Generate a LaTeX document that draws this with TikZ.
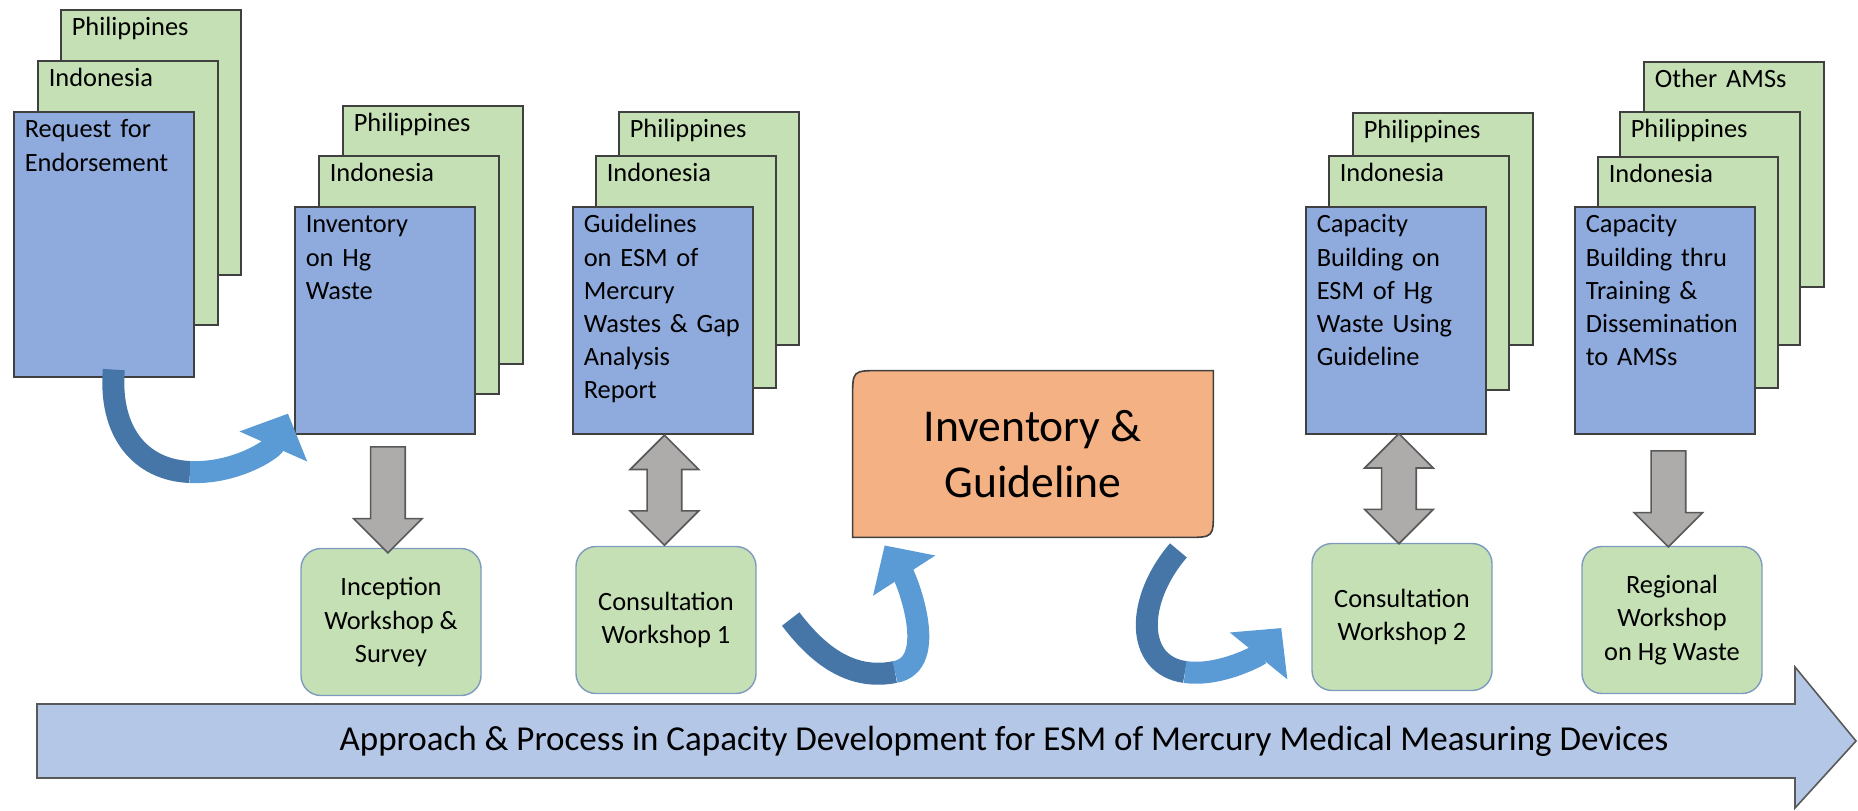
\documentclass[tikz,border=0pt]{standalone}
\usepackage{fontspec}
\setmainfont{Carlito}
\usetikzlibrary{arrows.meta,calc,shapes.arrows,backgrounds}

\definecolor{azulC}{RGB}{143,170,220}
\definecolor{verdeC}{RGB}{197,224,180}
\definecolor{naranjaC}{RGB}{244,177,131}
\definecolor{grisF}{RGB}{174,171,171}
\definecolor{grisB}{RGB}{89,89,89}
\definecolor{bordeC}{RGB}{64,64,64}
\definecolor{bordeT}{RGB}{125,155,190}
\definecolor{curvaO}{RGB}{70,118,168}
\definecolor{curvaC}{RGB}{91,155,213}
\definecolor{procC}{RGB}{180,199,231}

\newcommand{\cajafont}{\fontsize{13.2}{16.6}\selectfont}
\newcommand{\igfont}{\fontsize{22.8}{28.3}\selectfont}
\newcommand{\titfont}{\fontsize{17.5}{20}\selectfont}

\tikzset{
	caja/.style={draw=bordeC, line width=0.8pt, anchor=north west, inner xsep=5.5pt, inner ysep=0pt, text width=79pt, align=left, font=\cajafont},
	pais/.style={caja, fill=verdeC, text height=13pt, text depth=#1},
	doc/.style={caja, fill=azulC, text height=13pt, text depth=#1},
	taller/.style={draw=bordeT, fill=verdeC, line width=0.7pt, rounded corners=10pt, minimum width=90pt, minimum height=73.5pt, align=center, font=\cajafont},
	bajada/.style={single arrow, shape border rotate=270, draw=grisB, fill=grisF, line width=0.8pt, inner sep=8.25pt, minimum width=34pt, single arrow head extend=8.5pt, minimum height=#1},
	doble/.style={double arrow, shape border rotate=90, draw=grisB, fill=grisF, line width=0.8pt, inner sep=8.25pt, minimum width=34pt, double arrow head extend=8.5pt, minimum height=#1},
	curvaA/.style={draw=curvaO, line width=11pt},
	curvaB/.style={draw=curvaC, line width=11pt, -{Triangle[width=36pt,length=18pt]}},
}

\begin{document}
\begin{tikzpicture}[x=0.5pt, y=-0.5pt]

	\useasboundingbox (0,0) rectangle (1858,810);

	%COLUMNA 1
	\node[pais=119.5pt] (phl1) at (60,9) {Philippines};
	\node[pais=119pt] (ind1) at (37,60) {Indonesia};
	\node[doc=119.5pt] (req) at (13,111) {Request for\\Endorsement};

	%COLUMNA 2
	\node[pais=116pt] (phl2) at (342,105) {Philippines};
	\node[pais=106pt] (ind2) at (318,155) {Indonesia};
	\node[doc=100.5pt] (inv) at (294,206) {Inventory\\on Hg\\Waste};

	%COLUMNA 3
	\node[pais=103.5pt] (phl3) at (618,111) {Philippines};
	\node[pais=103pt] (ind3) at (595,155) {Indonesia};
	\node[doc=100.5pt] (gdl) at (572,206) {Guidelines\\on ESM of\\Mercury\\Wastes \& Gap\\Analysis\\Report};

	%COLUMNA 4
	\node[pais=103pt] (phl4) at (1352,112) {Philippines};
	\node[pais=104pt] (ind4) at (1328,155) {Indonesia};
	\node[doc=100.5pt] (cbe) at (1305,206) {Capacity\\Building on\\ESM of Hg\\Waste Using\\Guideline};

	%COLUMNA 5
	\node[pais=99.5pt] (oth5) at (1643,61) {Other AMSs};
	\node[pais=103.5pt] (phl5) at (1619,111) {Philippines};
	\node[pais=102.5pt] (ind5) at (1597,156) {Indonesia};
	\node[doc=100.5pt] (cbt) at (1574,206) {Capacity\\Building thru\\Training \&\\Dissemination\\to AMSs};

	%TALLERES
	\node[taller] (ws1) at (391,622) {Inception\\Workshop \&\\Survey};
	\node[taller] (ws2) at (666,620) {Consultation\\Workshop 1};
	\node[taller] (ws3) at (1402,617) {Consultation\\Workshop 2};
	\node[taller] (ws4) at (1672,620) {Regional\\Workshop\\on Hg Waste};

	%FLECHAS GRISES
	\node[bajada=53pt] (fl1) at ($(inv.south)!0.5!(ws1.north)$) {};
	\node[doble=55pt] (fl2) at ($(gdl.south)!0.5!(ws2.north)$) {};
	\node[doble=55pt] (fl3) at ($(cbe.south)!0.5!(ws3.north)$) {};
	\node[bajada=48pt] (fl4) at ($(cbt.south)!0.5!(ws4.north)$) {};

	%INVENTARIO
	\node[minimum width=180pt, minimum height=83pt, align=center, font=\igfont] (ig) at (1033,454) {Inventory \&\\Guideline};
	\begin{scope}[on background layer]
		\draw[draw=bordeC, line width=0.8pt, fill=naranjaC] ($(ig.north west)+(0,27)$) .. controls (ig.north west) .. ($(ig.north west)+(27,0)$) -| ($(ig.south east)+(0,-27)$) .. controls (ig.south east) .. ($(ig.south east)+(-27,0)$) -- (ig.south west) -- cycle;
	\end{scope}

	%FLECHAS CURVAS
	\coordinate (c1a) at ($(req.south)+(10,-8)$);
	\coordinate (c1b) at (190,472);
	\coordinate (c1c) at ($(inv.south west)+(-6,-21)$);
	\draw[curvaA] (c1a) .. controls +(-5,62) and +(-50,-2) .. (c1b);
	\draw[curvaB] (c1b) .. controls +(45,2) and +(-16,36) .. (c1c);

	\coordinate (c2a) at ($(ws2.east)+(34,-1)$);
	\coordinate (c2b) at (895,672);
	\coordinate (c2c) at ($(ig.south west)+(32,8)$);
	\draw[curvaA] (c2a) .. controls +(31,41) and +(-40,8) .. (c2b);
	\draw[curvaB] (c2b) .. controls +(45,-8) and +(22,34) .. (c2c);

	\coordinate (c3a) at ($(ig.south east)+(-35,13)$);
	\coordinate (c3b) at (1185,672);
	\coordinate (c3c) at ($(ws3.west)+(-30,11)$);
	\draw[curvaA] (c3a) .. controls +(-43,50) and +(-50,-7) .. (c3b);
	\draw[curvaB] (c3b) .. controls +(35,5) and +(-22,27) .. (c3c);

	%FLECHA PROCESO
	\draw[draw=grisB, line width=0.8pt, fill=procC] (37,704) -- (1795,704) -- (1795,667) -- (1856,741) -- (1795,808) -- (1795,778) -- (37,778) -- cycle;
	\node[font=\titfont] (tit) at (1004,741) {Approach \& Process in Capacity Development for ESM of Mercury Medical Measuring Devices};

\end{tikzpicture}
\end{document}
